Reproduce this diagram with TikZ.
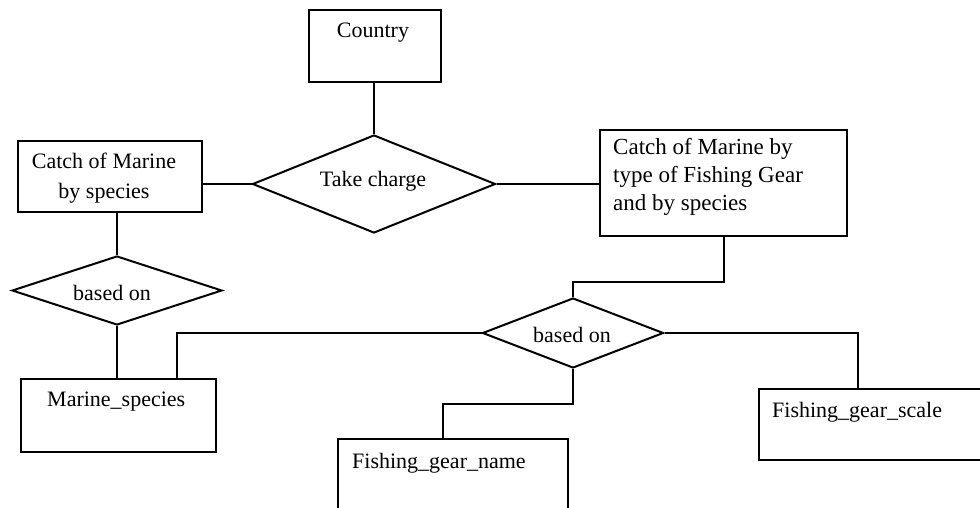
\documentclass[tikz,border=0pt]{standalone}
\usepackage{fontspec}
\setmainfont{Liberation Serif}
\usetikzlibrary{shapes.geometric}
\begin{document}
\begin{tikzpicture}[x=1pt,y=-1pt,
  entity/.style={draw, line width=2pt, rectangle, inner sep=0pt, anchor=north west},
  relation/.style={draw, line width=2pt, diamond, inner sep=0pt},
  link/.style={line width=2pt},
  lbl/.style={inner sep=0pt, font=\fontsize{22}{30}\selectfont}]
\useasboundingbox (0,0) rectangle (980,508);
\clip (0,0) rectangle (980,508);
\fill[white] (0,0) rectangle (980,508);

% entity boxes
\node[entity, minimum width=132pt, minimum height=72pt]  (country)   at (308,9)   {};
\node[entity, minimum width=184pt, minimum height=71pt]  (catchsp)   at (17,140)  {};
\node[entity, minimum width=247pt, minimum height=106pt] (catchgear) at (599,129) {};
\node[entity, minimum width=195pt, minimum height=73pt]  (marine)    at (20,378)  {};
\node[entity, minimum width=230pt, minimum height=95pt]  (gname)     at (337,438) {};
\node[entity, minimum width=240pt, minimum height=71pt]  (gscale)    at (758,388) {};

% relationship diamonds
\node[relation, minimum width=243pt, minimum height=98pt] (take)   at (374,184) {};
\node[relation, minimum width=210pt, minimum height=69pt] (based1) at (117,290.5) {};
\node[relation, minimum width=181pt, minimum height=70pt] (based2) at (573,333) {};

% labels
\node[lbl] (tcountry) at (373,33) {Country};
\node[lbl, align=center] (tcatchsp) at (104,178) {Catch of Marine\\by species};
\node[lbl, align=left, anchor=west, font=\fontsize{23}{28}\selectfont] (tcatchgear) at (613,177)
  {Catch of Marine by\\type of Fishing Gear\\and by species};
\node[lbl] (ttake) at (373,181) {Take charge};
\node[lbl] (tbased1) at (112,293) {based on};
\node[lbl] (tbased2) at (572,335) {based on};
\node[lbl, anchor=west] (tmarine) at (47,402) {Marine\_species};
\node[lbl, anchor=west] (tgname) at (352,463) {Fishing\_gear\_name};
\node[lbl, anchor=west] (tgscale) at (772,412) {Fishing\_gear\_scale};

% attachment points on box edges
\coordinate (mtop) at (177,378);
\coordinate (gntop) at (443,438);
\coordinate (gstop) at (858,388);

% connectors
\draw[link] (take.north |- country.south) -- (take.north);
\draw[link] (catchsp.east |- take.west) -- (take.west);
\draw[link] (take.east) -- (catchgear.west |- take.east);
\draw[link] (based1.north |- catchsp.south) -- (based1.north);
\draw[link] (based1.south) -- (based1.south |- marine.north);
\draw[link] (catchgear.south) -- ++(0,45) -| (based2.north);
\draw[link] (based2.west) -| (mtop);
\draw[link] (based2.east) -| (gstop);
\draw[link] (based2.south) -- ++(0,35) -| (gntop);
\end{tikzpicture}
\end{document}
